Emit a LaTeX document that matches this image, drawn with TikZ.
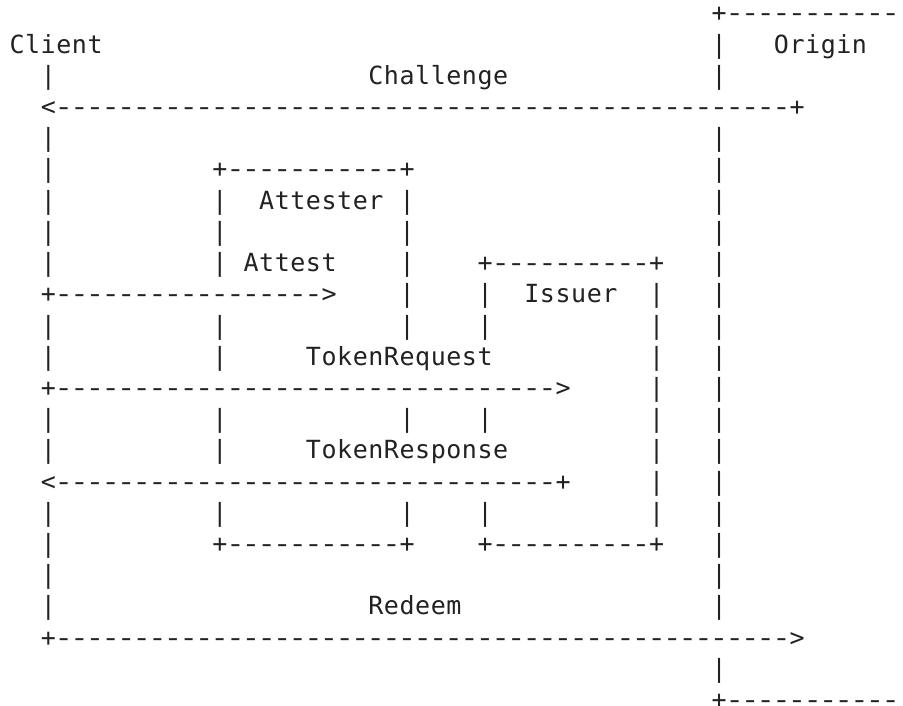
\documentclass[tikz,border=0pt]{standalone}
\usepackage{fontspec}
\usepackage{graphicx}
\newfontfamily\asciifont{DejaVu Sans Mono}
\definecolor{ink}{HTML}{222222}
\newlength\cw
\setlength\cw{15.6pt}
\makeatletter
\newcommand\spreadchars[1]{\@tfor\asc@ch:=#1\do{\makebox[\cw][c]{\asc@ch}}}
\makeatother
\newcommand\asciidash{\makebox[\cw][c]{\scalebox{1.25}[1]{-}}}
\ExplSyntaxOn
\cs_new:Npn \asciidashes #1 {\prg_replicate:nn{#1}{\asciidash}}
\ExplSyntaxOff
\tikzset{ascii/.style={anchor=base west, inner sep=0pt, outer sep=0pt,
  font=\asciifont\fontsize{25}{25}\selectfont, text=ink}}
% text token at column #1, row #2
\newcommand\tok[3]{\node[ascii] (t#2x#1) at ({9.3+#1*15.6},{-(22+#2*31.2)}) {\spreadchars{#3}};}
% dashed segment: column, row, left char, number of dashes, right char
\newcommand\asciiseg[5]{\node[ascii] (s#2x#1) at ({9.3+#1*15.6},{-(22+#2*31.2)})
  {\makebox[\cw][c]{#3}\asciidashes{#4}\makebox[\cw][c]{#5}};}
\newcommand\asciiopen[4]{\node[ascii] (o#2x#1) at ({9.3+#1*15.6},{-(22+#2*31.2)})
  {\makebox[\cw][c]{#3}\asciidashes{#4}};}
\begin{document}
\begin{tikzpicture}[x=1pt,y=1pt]
\fill[white] (0,0) rectangle (903,-706);
\useasboundingbox (0,0) rectangle (903,-706);
% row 0
\asciiopen{45}{0}{+}{11}
% row 1
\tok{0}{1}{Client} \tok{45}{1}{|} \tok{49}{1}{Origin}
% row 2
\tok{2}{2}{|} \tok{23}{2}{Challenge} \tok{45}{2}{|}
% row 3
\asciiseg{2}{3}{<}{47}{+}
% row 4
\tok{2}{4}{|} \tok{45}{4}{|}
% row 5
\tok{2}{5}{|} \asciiseg{13}{5}{+}{11}{+} \tok{45}{5}{|}
% row 6
\tok{2}{6}{|} \tok{13}{6}{|} \tok{16}{6}{Attester} \tok{25}{6}{|} \tok{45}{6}{|}
% row 7
\tok{2}{7}{|} \tok{13}{7}{|} \tok{25}{7}{|} \tok{45}{7}{|}
% row 8
\tok{2}{8}{|} \tok{13}{8}{|} \tok{15}{8}{Attest} \tok{25}{8}{|} \asciiseg{30}{8}{+}{10}{+} \tok{45}{8}{|}
% row 9
\asciiseg{2}{9}{+}{17}{>} \tok{25}{9}{|} \tok{30}{9}{|} \tok{33}{9}{Issuer} \tok{41}{9}{|} \tok{45}{9}{|}
% row 10
\tok{2}{10}{|} \tok{13}{10}{|} \tok{25}{10}{|} \tok{30}{10}{|} \tok{41}{10}{|} \tok{45}{10}{|}
% row 11
\tok{2}{11}{|} \tok{13}{11}{|} \tok{19}{11}{TokenRequest} \tok{41}{11}{|} \tok{45}{11}{|}
% row 12
\asciiseg{2}{12}{+}{32}{>} \tok{41}{12}{|} \tok{45}{12}{|}
% row 13
\tok{2}{13}{|} \tok{13}{13}{|} \tok{25}{13}{|} \tok{30}{13}{|} \tok{41}{13}{|} \tok{45}{13}{|}
% row 14
\tok{2}{14}{|} \tok{13}{14}{|} \tok{19}{14}{TokenResponse} \tok{41}{14}{|} \tok{45}{14}{|}
% row 15
\asciiseg{2}{15}{<}{32}{+} \tok{41}{15}{|} \tok{45}{15}{|}
% row 16
\tok{2}{16}{|} \tok{13}{16}{|} \tok{25}{16}{|} \tok{30}{16}{|} \tok{41}{16}{|} \tok{45}{16}{|}
% row 17
\tok{2}{17}{|} \asciiseg{13}{17}{+}{11}{+} \asciiseg{30}{17}{+}{10}{+} \tok{45}{17}{|}
% row 18
\tok{2}{18}{|} \tok{45}{18}{|}
% row 19
\tok{2}{19}{|} \tok{23}{19}{Redeem} \tok{45}{19}{|}
% row 20
\asciiseg{2}{20}{+}{47}{>}
% row 21
\tok{45}{21}{|}
% row 22
\asciiopen{45}{22}{+}{11}
\end{tikzpicture}
\end{document}
